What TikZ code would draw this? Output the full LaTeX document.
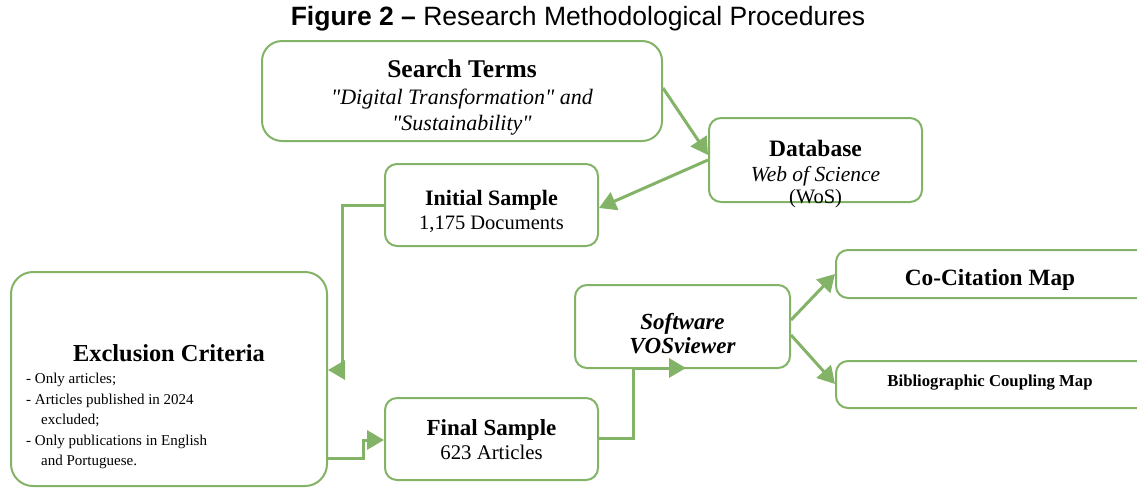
\documentclass[tikz,border=0pt]{standalone}
\usepackage{fontspec}
\setmainfont{Liberation Serif}[Ligatures=TeXOff]
\newfontfamily\titlefont{Liberation Sans}
\usetikzlibrary{arrows.meta}
\definecolor{gline}{HTML}{82B366}
\tikzset{
  box/.style={draw=gline, line width=2pt, rounded corners=#1, inner sep=0pt},
  box/.default=12pt,
  conn/.style={draw=gline, line width=3pt, -{Triangle[length=17pt,width=19pt]}},
  txt/.style={anchor=base, inner sep=0pt, align=center},
}
\newcommand{\fs}[1]{\fontsize{#1}{#1}\selectfont}
\begin{document}
\begin{tikzpicture}[x=1pt,y=-1pt]
\useasboundingbox (0,0) rectangle (1137,488);
% boxes
\node[box=20pt, minimum width=400pt, minimum height=100pt] (st) at (462,91) {};
\node[box=12pt, minimum width=213pt, minimum height=84pt] (db) at (815.5,160) {};
\node[box=12pt, minimum width=213pt, minimum height=82pt] (is) at (491.5,205) {};
\node[box=22pt, minimum width=316pt, minimum height=214pt] (ex) at (169,379) {};
\node[box=12pt, minimum width=213pt, minimum height=82pt] (fs) at (491.5,439) {};
\node[box=12pt, minimum width=215pt, minimum height=83pt] (vos) at (682.5,326.5) {};
\node[box=12pt, minimum width=320pt, minimum height=48pt] (cc) at (996,274) {};
\node[box=12pt, minimum width=320pt, minimum height=47pt] (bc) at (996,384.5) {};
% title
\node[txt] (title) at (578,25) {\titlefont\fs{26.5}\textbf{Figure 2 –} Research Methodological Procedures};
% texts
\node[txt] (t1) at (462,77) {\fs{25.5}\textbf{Search Terms}};
\node[txt] (t2) at (462,104) {\fs{22}\textit{"Digital Transformation" and}};
\node[txt] (t3) at (462,130) {\fs{22}\textit{"Sustainability"}};
\node[txt] (t4) at (815.5,156) {\fs{23.5}\textbf{Database}};
\node[txt] (t5) at (815.5,181) {\fs{21.5}\textit{Web of Science}};
\node[txt] (t6) at (815.5,203) {\fs{20.5}(WoS)};
\node[txt] (t7) at (491.5,205) {\fs{22}\textbf{Initial Sample}};
\node[txt] (t8) at (491.5,229) {\fs{20.5}1,175 Documents};
\node[txt] (t9) at (169,361) {\fs{24.4}\textbf{Exclusion Criteria}};
\node[anchor=base west, inner sep=0pt] (b1) at (26,383) {\fs{15}- Only articles;};
\node[anchor=base west, inner sep=0pt] (b2) at (26,404) {\fs{15}- Articles published in 2024};
\node[anchor=base west, inner sep=0pt] (b3) at (41,424) {\fs{15}excluded;};
\node[anchor=base west, inner sep=0pt] (b4) at (26,445) {\fs{15}- Only publications in English};
\node[anchor=base west, inner sep=0pt] (b5) at (41,465) {\fs{15}and Portuguese.};
\node[txt] (t10) at (491.5,435) {\fs{23}\textbf{Final Sample}};
\node[txt] (t11) at (491.5,459) {\fs{20.8}623 Articles};
\node[txt] (t12) at (682.5,329) {\fs{23}\textbf{\textit{Software}}};
\node[txt] (t13) at (682.5,353) {\fs{23}\textbf{\textit{VOSviewer}}};
\node[txt] (t14) at (990,285) {\fs{23.3}\textbf{Co-Citation Map}};
\node[txt] (t15) at (990,386) {\fs{16.7}\textbf{Bibliographic Coupling Map}};
% connectors
\coordinate (c1) at (342,205);
\coordinate (c2) at (342,370);
\draw[conn] (st.east |- 0,88) -- (db.west |- 0,155);
\draw[conn] (db.west |- 0,160) -- (is.east |- 0,208);
\draw[conn] (is.west) -- (c1) -- (c2) -- (ex.east |- c2);
\coordinate (c3) at (363,458);
\coordinate (c4) at (363,440);
\draw[conn] (ex.east |- c3) -- (c3) -- (c4) -- (fs.west |- c4);
\coordinate (c5) at (633,438);
\coordinate (c6) at (633,368);
\draw[conn] (fs.east |- c5) -- (c5) -- (c6) -- (686,368);
\draw[conn] (vos.east |- 0,320) -- (cc.west |- 0,274);
\draw[conn] (vos.east |- 0,335) -- (bc.west |- 0,384);
\end{tikzpicture}
\end{document}
